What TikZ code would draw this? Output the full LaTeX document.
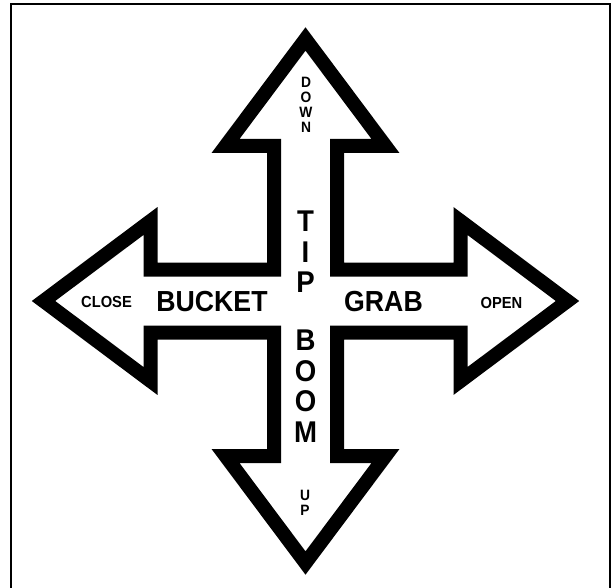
\documentclass[tikz,border=0pt]{standalone}
\usepackage{fontspec}
\setmainfont{Liberation Sans}
\newfontfamily\signfont[FakeStretch=0.92]{Liberation Sans}
\usepackage{tikz}

\begin{document}
\begin{tikzpicture}[
    x=1pt,y=-1pt,
    outline/.style={draw=black,line width=14pt,line join=miter,miter limit=10},
    frame/.style={draw=black,line width=2pt},
    bigword/.style={font=\signfont\bfseries\fontsize{29}{29}\selectfont,inner sep=0pt},
    smallword/.style={font=\signfont\bfseries\fontsize{16}{16}\selectfont,inner sep=0pt},
    upright/.style={font=\signfont\bfseries\fontsize{30}{30.5}\selectfont,align=center,inner sep=0pt},
    tinyup/.style={font=\signfont\bfseries\fontsize{15}{15}\selectfont,align=center,inner sep=0pt}
]
    \useasboundingbox (0,0) rectangle (613,588);
    % Frame
    \draw[frame] (11,4.5) rectangle (609.5,600);

    % Cross arrow
    \begin{scope}[shift={(305.5,301)}]
    \draw[outline] (0,-262) -- (80,-155) -- (31.5,-155) -- (31.5,-31.5)
        -- (155,-31.5) -- (155,-80) -- (262,0) -- (155,80) -- (155,31.5)
        -- (31.5,31.5) -- (31.5,155) -- (80,155) -- (0,262) -- (-80,155)
        -- (-31.5,155) -- (-31.5,31.5) -- (-155,31.5) -- (-155,80)
        -- (-262,0) -- (-155,-80) -- (-155,-31.5) -- (-31.5,-31.5)
        -- (-31.5,-155) -- (-80,-155) -- cycle;
    \end{scope}

    % Labels
    \node[bigword] (bucket) at (212,301.5) {BUCKET};
    \node[bigword] (grab) at (383.5,301.5) {GRAB};
    \node[smallword] (close) at (106.5,302) {CLOSE};
    \node[smallword] (open) at (501.5,302.5) {OPEN};
    \node[upright] (tip) at (305.5,252) {T\\I\\P};
    \node[upright] (boom) at (305.5,386) {B\\O\\O\\M};
    \node[tinyup] (down) at (306,105) {D\\O\\W\\N};
    \node[tinyup] (up) at (305,503) {U\\P};
\end{tikzpicture}
\end{document}
